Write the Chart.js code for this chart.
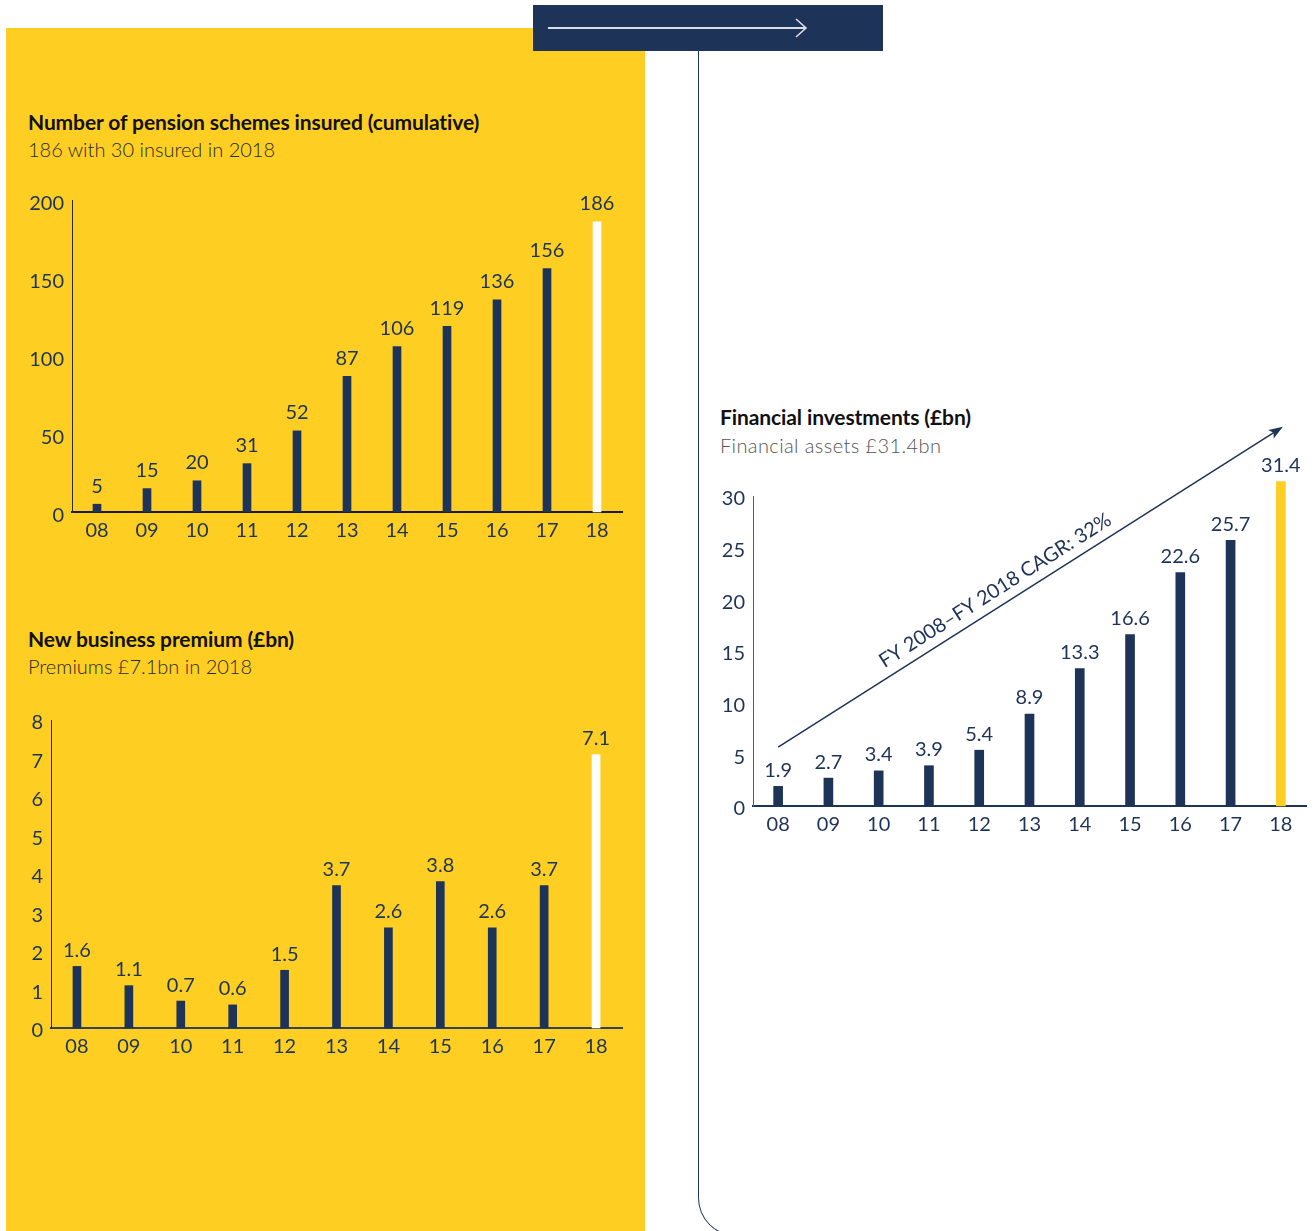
<!DOCTYPE html>
<html>
<head>
<meta charset="utf-8">
<script src="https://cdn.jsdelivr.net/npm/chart.js@4.4.1/dist/chart.umd.min.js"></script>
<style>
  body { margin: 0; width: 1314px; height: 1231px; overflow: hidden; position: relative; background: #fff; font-family: Lato, sans-serif; }
  .panel { position: absolute; left: 6px; top: 28px; width: 639px; height: 1210px; background: #FECF22; }
  .header { position: absolute; left: 533px; top: 5px; width: 350px; height: 46px; background: #1E3358; }
  .rail { position: absolute; left: 698px; top: 51px; width: 200px; height: 1185px; box-sizing: border-box;
          border-left: 1.5px solid #1E3358; border-bottom: 1.5px solid #1E3358; border-bottom-left-radius: 38px; }
  .title { position: absolute; font-weight: 700; font-size: 21px; line-height: 24px; color: #111; letter-spacing: -0.1px; white-space: nowrap; }
  .sub { position: absolute; font-weight: 300; font-size: 20px; line-height: 24px; color: #2a2a2a; white-space: nowrap; }
  canvas { position: absolute; }
</style>
</head>
<body>
<div class="panel"></div>
<div class="rail"></div>
<div class="header">
  <svg width="350" height="46">
    <line x1="15" y1="23" x2="273" y2="23" stroke="#d9dde4" stroke-width="2"/>
    <polyline points="263,14 273,23 263,32" fill="none" stroke="#d9dde4" stroke-width="1.6"/>
  </svg>
</div>

<div class="title" style="left:28px; top:110px;">Number of pension schemes insured (cumulative)</div>
<div class="sub" style="left:28px; top:137px;">186 with 30 insured in 2018</div>
<canvas id="schemes" width="610" height="370" style="left:20px; top:180px;"></canvas>

<div class="title" style="left:28px; top:627px;">New business premium (£bn)</div>
<div class="sub" style="left:28px; top:654px;">Premiums £7.1bn in 2018</div>
<canvas id="premium" width="620" height="365" style="left:10px; top:700px;"></canvas>

<div class="title" style="left:720px; top:405px;">Financial investments (£bn)</div>
<div class="sub" style="left:720px; top:433px; color:#555; letter-spacing:0.4px;">Financial assets £31.4bn</div>
<canvas id="investments" width="614" height="450" style="left:700px; top:400px;"></canvas>

<script>
const years = ['08', '09', '10', '11', '12', '13', '14', '15', '16', '17', '18'];
const schemes = [5, 15, 20, 31, 52, 87, 106, 119, 136, 156, 186];
const premiums = [1.6, 1.1, 0.7, 0.6, 1.5, 3.7, 2.6, 3.8, 2.6, 3.7, 7.1];
const investments = [1.9, 2.7, 3.4, 3.9, 5.4, 8.9, 13.3, 16.6, 22.6, 25.7, 31.4];

// CAGR arrow, given as [category index, value] at each end
const cagrText = 'FY 2008–FY 2018 CAGR: 32%';
const cagrFrom = [0, 5.7];
const cagrTo = [10, 36.7];

const navy = '#1E3358';
const yellow = '#FECF22';

// number above every bar
const valueLabels = {
  id: 'valueLabels',
  afterDatasetsDraw(chart, args, opts) {
    const ctx = chart.ctx;
    const meta = chart.getDatasetMeta(0);
    const values = chart.data.datasets[0].data;
    ctx.save();
    ctx.font = '20px Lato';
    ctx.fillStyle = navy;
    ctx.textAlign = 'center';
    ctx.textBaseline = 'bottom';
    meta.data.forEach((bar, i) => {
      ctx.fillText(String(values[i]), bar.x, bar.y - (opts.gap || 8));
    });
    ctx.restore();
  }
};

// diagonal growth arrow with its caption
const cagrArrow = {
  id: 'cagrArrow',
  afterDraw(chart) {
    const x = chart.scales.x, y = chart.scales.y;
    const x1 = x.getPixelForValue(cagrFrom[0]), y1 = y.getPixelForValue(cagrFrom[1]);
    const x2 = x.getPixelForValue(cagrTo[0]) + 2, y2 = y.getPixelForValue(cagrTo[1]);
    const ang = Math.atan2(y2 - y1, x2 - x1);
    const ctx = chart.ctx;
    ctx.save();
    ctx.strokeStyle = navy;
    ctx.fillStyle = navy;
    ctx.lineWidth = 1.5;
    ctx.beginPath();
    ctx.moveTo(x1, y1);
    ctx.lineTo(x2 - 8 * Math.cos(ang), y2 - 8 * Math.sin(ang));
    ctx.stroke();
    ctx.translate(x2, y2);
    ctx.rotate(ang);
    ctx.beginPath();
    ctx.moveTo(0, 0);
    ctx.lineTo(-14, -5);
    ctx.lineTo(-11, 0);
    ctx.lineTo(-14, 5);
    ctx.closePath();
    ctx.fill();
    ctx.restore();

    const t = 0.447;
    const mx = x1 + (x2 - x1) * t, my = y1 + (y2 - y1) * t;
    ctx.save();
    ctx.translate(mx, my);
    ctx.rotate(ang);
    ctx.font = '20px Lato';
    ctx.fillStyle = navy;
    ctx.textAlign = 'center';
    ctx.textBaseline = 'bottom';
    ctx.fillText(cagrText, 0, -6);
    ctx.restore();
  }
};

function barChart(id, values, colors, yMax, yStep, box) {
  return new Chart(document.getElementById(id), {
    type: 'bar',
    data: {
      labels: years,
      datasets: [{
        data: values,
        backgroundColor: colors,
        barThickness: box.bar,
        clip: false
      }]
    },
    options: {
      responsive: false,
      animation: false,
      devicePixelRatio: 1,
      layout: { padding: { top: box.top, right: box.right, left: 0, bottom: 0 } },
      plugins: { legend: { display: false }, tooltip: { enabled: false }, valueLabels: { gap: box.gap } },
      scales: {
        x: {
          grid: { display: false, drawTicks: false },
          border: { display: true, color: box.xLine, width: 2 },
          ticks: { color: navy, font: { family: 'Lato', size: 20 }, padding: 7, maxRotation: 0, autoSkip: false },
          afterFit: (s) => { s.height = box.xh; }
        },
        y: {
          min: 0, max: yMax,
          grid: { display: false, drawTicks: false },
          border: { display: true, color: box.yLine, width: 1 },
          ticks: { color: navy, font: { family: 'Lato', size: 20 }, padding: 8, stepSize: yStep, labelOffset: box.lo },
          afterFit: (s) => { s.width = box.yw; }
        }
      }
    },
    plugins: box.plugins
  });
}

const darkBars = (last) => years.map((_, i) => i === years.length - 1 ? last : navy);

barChart('schemes', schemes, darkBars('#ffffff'), 200, 50,
  { top: 20, right: 8, yw: 52, xh: 38, bar: 8, lo: 4, gap: 8, xLine: '#1c1c1c', yLine: '#2a2a2a', plugins: [valueLabels] });

barChart('premium', premiums, darkBars('#ffffff'), 8, 1,
  { top: 18, right: 8, yw: 41, xh: 37, bar: 8, lo: 3, gap: 6, xLine: '#35435a', yLine: '#2a2a2a', plugins: [valueLabels] });

barChart('investments', investments, darkBars(yellow), 30, 5,
  { top: 96, right: 8, yw: 53, xh: 44, bar: 9, lo: 3, gap: 6, xLine: navy, yLine: '#4a5a78', plugins: [valueLabels, cagrArrow] });
</script>
</body>
</html>
